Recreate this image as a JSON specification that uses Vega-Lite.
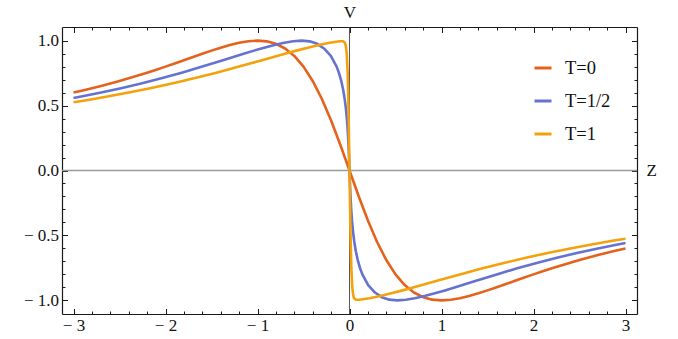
{
  "$schema": "https://vega.github.io/schema/vega-lite/v6.json",
  "width": 575,
  "height": 287,
  "autosize": {"type": "none"},
  "padding": {"left": 62, "top": 27, "right": 41, "bottom": 25},
  "background": "white",
  "config": {
    "view": {"stroke": null},
    "font": "Liberation Serif",
    "axis": {
      "domainColor": "#1a1a1a",
      "domainWidth": 1.2,
      "tickColor": "#1a1a1a",
      "tickWidth": 1,
      "grid": false,
      "labelFont": "Liberation Serif",
      "labelFontSize": 17,
      "labelColor": "#111111",
      "titleFont": "Liberation Serif",
      "titleFontSize": 17,
      "titleFontWeight": "normal",
      "titleColor": "#111111"
    },
    "legend": {
      "labelFont": "Liberation Serif",
      "labelFontSize": 18.5,
      "labelColor": "#111111"
    }
  },
  "datasets": {
    "curves": [
      {"T": "T=0", "Z": -3, "V": 0.6},
      {"T": "T=0", "Z": -2.9, "V": 0.61636},
      {"T": "T=0", "Z": -2.8, "V": 0.63348},
      {"T": "T=0", "Z": -2.7, "V": 0.65139},
      {"T": "T=0", "Z": -2.6, "V": 0.6701},
      {"T": "T=0", "Z": -2.5, "V": 0.68966},
      {"T": "T=0", "Z": -2.4, "V": 0.71006},
      {"T": "T=0", "Z": -2.3, "V": 0.73132},
      {"T": "T=0", "Z": -2.2, "V": 0.75342},
      {"T": "T=0", "Z": -2.1, "V": 0.77634},
      {"T": "T=0", "Z": -2.0, "V": 0.8},
      {"T": "T=0", "Z": -1.9, "V": 0.8243},
      {"T": "T=0", "Z": -1.8, "V": 0.84906},
      {"T": "T=0", "Z": -1.7, "V": 0.87404},
      {"T": "T=0", "Z": -1.6, "V": 0.89888},
      {"T": "T=0", "Z": -1.5, "V": 0.92308},
      {"T": "T=0", "Z": -1.4, "V": 0.94595},
      {"T": "T=0", "Z": -1.3, "V": 0.96654},
      {"T": "T=0", "Z": -1.2, "V": 0.98361},
      {"T": "T=0", "Z": -1.1, "V": 0.99548},
      {"T": "T=0", "Z": -1.0, "V": 1},
      {"T": "T=0", "Z": -0.9, "V": 0.99448},
      {"T": "T=0", "Z": -0.8, "V": 0.97561},
      {"T": "T=0", "Z": -0.7, "V": 0.9396},
      {"T": "T=0", "Z": -0.6, "V": 0.88235},
      {"T": "T=0", "Z": -0.5, "V": 0.8},
      {"T": "T=0", "Z": -0.4, "V": 0.68966},
      {"T": "T=0", "Z": -0.3, "V": 0.55046},
      {"T": "T=0", "Z": -0.2, "V": 0.38462},
      {"T": "T=0", "Z": -0.1, "V": 0.19802},
      {"T": "T=0", "Z": 0, "V": 0},
      {"T": "T=0", "Z": 0.1, "V": -0.19802},
      {"T": "T=0", "Z": 0.2, "V": -0.38462},
      {"T": "T=0", "Z": 0.3, "V": -0.55046},
      {"T": "T=0", "Z": 0.4, "V": -0.68966},
      {"T": "T=0", "Z": 0.5, "V": -0.8},
      {"T": "T=0", "Z": 0.6, "V": -0.88235},
      {"T": "T=0", "Z": 0.7, "V": -0.9396},
      {"T": "T=0", "Z": 0.8, "V": -0.97561},
      {"T": "T=0", "Z": 0.9, "V": -0.99448},
      {"T": "T=0", "Z": 1.0, "V": -1},
      {"T": "T=0", "Z": 1.1, "V": -0.99548},
      {"T": "T=0", "Z": 1.2, "V": -0.98361},
      {"T": "T=0", "Z": 1.3, "V": -0.96654},
      {"T": "T=0", "Z": 1.4, "V": -0.94595},
      {"T": "T=0", "Z": 1.5, "V": -0.92308},
      {"T": "T=0", "Z": 1.6, "V": -0.89888},
      {"T": "T=0", "Z": 1.7, "V": -0.87404},
      {"T": "T=0", "Z": 1.8, "V": -0.84906},
      {"T": "T=0", "Z": 1.9, "V": -0.8243},
      {"T": "T=0", "Z": 2.0, "V": -0.8},
      {"T": "T=0", "Z": 2.1, "V": -0.77634},
      {"T": "T=0", "Z": 2.2, "V": -0.75342},
      {"T": "T=0", "Z": 2.3, "V": -0.73132},
      {"T": "T=0", "Z": 2.4, "V": -0.71006},
      {"T": "T=0", "Z": 2.5, "V": -0.68966},
      {"T": "T=0", "Z": 2.6, "V": -0.6701},
      {"T": "T=0", "Z": 2.7, "V": -0.65139},
      {"T": "T=0", "Z": 2.8, "V": -0.63348},
      {"T": "T=0", "Z": 2.9, "V": -0.61636},
      {"T": "T=0", "Z": 3, "V": -0.6},

      {"T": "T=1/2", "Z": -3, "V": 0.5581},
      {"T": "T=1/2", "Z": -2.9153, "V": 0.5694},
      {"T": "T=1/2", "Z": -2.7, "V": 0.6},
      {"T": "T=1/2", "Z": -2.4833, "V": 0.6335},
      {"T": "T=1/2", "Z": -2.265, "V": 0.6701},
      {"T": "T=1/2", "Z": -2.045, "V": 0.7101},
      {"T": "T=1/2", "Z": -1.8233, "V": 0.7534},
      {"T": "T=1/2", "Z": -1.6, "V": 0.8},
      {"T": "T=1/2", "Z": -1.3755, "V": 0.8491},
      {"T": "T=1/2", "Z": -1.1506, "V": 0.8989},
      {"T": "T=1/2", "Z": -1.0385, "V": 0.9231},
      {"T": "T=1/2", "Z": -0.927, "V": 0.9459},
      {"T": "T=1/2", "Z": -0.8167, "V": 0.9665},
      {"T": "T=1/2", "Z": -0.7082, "V": 0.9836},
      {"T": "T=1/2", "Z": -0.6122, "V": 0.9955},
      {"T": "T=1/2", "Z": -0.52, "V": 1},
      {"T": "T=1/2", "Z": -0.4326, "V": 0.9945},
      {"T": "T=1/2", "Z": -0.3512, "V": 0.9756},
      {"T": "T=1/2", "Z": -0.2772, "V": 0.9396},
      {"T": "T=1/2", "Z": -0.2029, "V": 0.8824},
      {"T": "T=1/2", "Z": -0.14, "V": 0.8},
      {"T": "T=1/2", "Z": -0.1132, "V": 0.7484},
      {"T": "T=1/2", "Z": -0.0896, "V": 0.6897},
      {"T": "T=1/2", "Z": -0.0694, "V": 0.6236},
      {"T": "T=1/2", "Z": -0.0523, "V": 0.5505},
      {"T": "T=1/2", "Z": -0.0382, "V": 0.4706},
      {"T": "T=1/2", "Z": -0.0269, "V": 0.3846},
      {"T": "T=1/2", "Z": -0.018, "V": 0.2934},
      {"T": "T=1/2", "Z": -0.0109, "V": 0.198},
      {"T": "T=1/2", "Z": -0.0051, "V": 0.0998},
      {"T": "T=1/2", "Z": 0, "V": 0},
      {"T": "T=1/2", "Z": 0.0051, "V": -0.0998},
      {"T": "T=1/2", "Z": 0.0109, "V": -0.198},
      {"T": "T=1/2", "Z": 0.018, "V": -0.2934},
      {"T": "T=1/2", "Z": 0.0269, "V": -0.3846},
      {"T": "T=1/2", "Z": 0.0382, "V": -0.4706},
      {"T": "T=1/2", "Z": 0.0523, "V": -0.5505},
      {"T": "T=1/2", "Z": 0.0694, "V": -0.6236},
      {"T": "T=1/2", "Z": 0.0896, "V": -0.6897},
      {"T": "T=1/2", "Z": 0.1132, "V": -0.7484},
      {"T": "T=1/2", "Z": 0.14, "V": -0.8},
      {"T": "T=1/2", "Z": 0.2029, "V": -0.8824},
      {"T": "T=1/2", "Z": 0.2772, "V": -0.9396},
      {"T": "T=1/2", "Z": 0.3512, "V": -0.9756},
      {"T": "T=1/2", "Z": 0.4326, "V": -0.9945},
      {"T": "T=1/2", "Z": 0.52, "V": -1},
      {"T": "T=1/2", "Z": 0.6122, "V": -0.9955},
      {"T": "T=1/2", "Z": 0.7082, "V": -0.9836},
      {"T": "T=1/2", "Z": 0.8167, "V": -0.9665},
      {"T": "T=1/2", "Z": 0.927, "V": -0.9459},
      {"T": "T=1/2", "Z": 1.0385, "V": -0.9231},
      {"T": "T=1/2", "Z": 1.1506, "V": -0.8989},
      {"T": "T=1/2", "Z": 1.3755, "V": -0.8491},
      {"T": "T=1/2", "Z": 1.6, "V": -0.8},
      {"T": "T=1/2", "Z": 1.8233, "V": -0.7534},
      {"T": "T=1/2", "Z": 2.045, "V": -0.7101},
      {"T": "T=1/2", "Z": 2.265, "V": -0.6701},
      {"T": "T=1/2", "Z": 2.4833, "V": -0.6335},
      {"T": "T=1/2", "Z": 2.7, "V": -0.6},
      {"T": "T=1/2", "Z": 2.9153, "V": -0.5694},
      {"T": "T=1/2", "Z": 3, "V": -0.5581},

      {"T": "T=1", "Z": -3, "V": 0.5253},
      {"T": "T=1", "Z": -2.8586, "V": 0.5414},
      {"T": "T=1", "Z": -2.6306, "V": 0.5694},
      {"T": "T=1", "Z": -2.4, "V": 0.6},
      {"T": "T=1", "Z": -2.1665, "V": 0.6335},
      {"T": "T=1", "Z": -1.9299, "V": 0.6701},
      {"T": "T=1", "Z": -1.6899, "V": 0.7101},
      {"T": "T=1", "Z": -1.4466, "V": 0.7534},
      {"T": "T=1", "Z": -1.2, "V": 0.8},
      {"T": "T=1", "Z": -0.9509, "V": 0.8491},
      {"T": "T=1", "Z": -0.826, "V": 0.874},
      {"T": "T=1", "Z": -0.7011, "V": 0.8989},
      {"T": "T=1", "Z": -0.5769, "V": 0.9231},
      {"T": "T=1", "Z": -0.4541, "V": 0.9459},
      {"T": "T=1", "Z": -0.3335, "V": 0.9665},
      {"T": "T=1", "Z": -0.2164, "V": 0.9836},
      {"T": "T=1", "Z": -0.1045, "V": 0.9955},
      {"T": "T=1", "Z": -0.07, "V": 0.9955},
      {"T": "T=1", "Z": -0.05, "V": 0.984},
      {"T": "T=1", "Z": -0.04, "V": 0.959},
      {"T": "T=1", "Z": -0.03, "V": 0.898},
      {"T": "T=1", "Z": -0.02, "V": 0.752},
      {"T": "T=1", "Z": -0.01, "V": 0.452},
      {"T": "T=1", "Z": 0, "V": 0},
      {"T": "T=1", "Z": 0.01, "V": -0.452},
      {"T": "T=1", "Z": 0.02, "V": -0.752},
      {"T": "T=1", "Z": 0.03, "V": -0.898},
      {"T": "T=1", "Z": 0.04, "V": -0.959},
      {"T": "T=1", "Z": 0.05, "V": -0.984},
      {"T": "T=1", "Z": 0.07, "V": -0.9955},
      {"T": "T=1", "Z": 0.1045, "V": -0.9955},
      {"T": "T=1", "Z": 0.2164, "V": -0.9836},
      {"T": "T=1", "Z": 0.3335, "V": -0.9665},
      {"T": "T=1", "Z": 0.4541, "V": -0.9459},
      {"T": "T=1", "Z": 0.5769, "V": -0.9231},
      {"T": "T=1", "Z": 0.7011, "V": -0.8989},
      {"T": "T=1", "Z": 0.826, "V": -0.874},
      {"T": "T=1", "Z": 0.9509, "V": -0.8491},
      {"T": "T=1", "Z": 1.2, "V": -0.8},
      {"T": "T=1", "Z": 1.4466, "V": -0.7534},
      {"T": "T=1", "Z": 1.6899, "V": -0.7101},
      {"T": "T=1", "Z": 1.9299, "V": -0.6701},
      {"T": "T=1", "Z": 2.1665, "V": -0.6335},
      {"T": "T=1", "Z": 2.4, "V": -0.6},
      {"T": "T=1", "Z": 2.6306, "V": -0.5694},
      {"T": "T=1", "Z": 2.8586, "V": -0.5414},
      {"T": "T=1", "Z": 3, "V": -0.5253}
    ]
  },
  "layer": [
    {
      "data": {"values": [{}]},
      "mark": {"type": "rule", "color": "#9a9a9a", "strokeWidth": 1.3},
      "encoding": {
        "x": {
          "datum": -3.125,
          "type": "quantitative",
          "scale": {"domain": [-3.125, 3.125], "nice": false, "zero": false},
          "axis": {
            "orient": "bottom",
            "title": null,
            "values": [-3, -2.8, -2.6, -2.4, -2.2, -2, -1.8, -1.6, -1.4, -1.2, -1, -0.8, -0.6, -0.4, -0.2, 0, 0.2, 0.4, 0.6, 0.8, 1, 1.2, 1.4, 1.6, 1.8, 2, 2.2, 2.4, 2.6, 2.8, 3],
            "tickSize": {"condition": {"test": "abs(datum.value - round(datum.value)) < 1e-6", "value": -5.5}, "value": -3},
            "labelPadding": 9,
            "labelExpr": "abs(datum.value - round(datum.value)) < 1e-6 ? ((datum.value < 0 ? '− ' : '') + format(abs(datum.value), 'd')) : ''",
            "labelFlush": false,
            "labelOverlap": false
          }
        },
        "x2": {"datum": 3.125},
        "y": {
          "datum": 0,
          "type": "quantitative",
          "scale": {"domain": [-1.105, 1.105], "nice": false, "zero": false},
          "axis": {
            "orient": "left",
            "title": null,
            "values": [-1, -0.9, -0.8, -0.7, -0.6, -0.5, -0.4, -0.3, -0.2, -0.1, 0, 0.1, 0.2, 0.3, 0.4, 0.5, 0.6, 0.7, 0.8, 0.9, 1],
            "tickSize": {"condition": {"test": "abs(datum.value * 2 - round(datum.value * 2)) < 1e-6", "value": -5.5}, "value": -3},
            "labelPadding": 9,
            "labelExpr": "abs(datum.value * 2 - round(datum.value * 2)) < 1e-6 ? ((datum.value < -1e-6 ? '− ' : '') + format(abs(datum.value), '.1f')) : ''",
            "labelFlush": false,
            "labelOverlap": false
          }
        }
      }
    },
    {
      "data": {"values": [{}]},
      "mark": {"type": "rule", "color": "#444444", "strokeWidth": 0.9},
      "encoding": {
        "x": {
          "datum": 0,
          "type": "quantitative",
          "axis": {
            "orient": "top",
            "title": "V",
            "titleX": 287.5,
            "titleY": -10,
            "titleAlign": "center",
            "titleBaseline": "alphabetic",
            "labels": false,
            "values": [-3, -2.8, -2.6, -2.4, -2.2, -2, -1.8, -1.6, -1.4, -1.2, -1, -0.8, -0.6, -0.4, -0.2, 0, 0.2, 0.4, 0.6, 0.8, 1, 1.2, 1.4, 1.6, 1.8, 2, 2.2, 2.4, 2.6, 2.8, 3],
            "tickSize": {"condition": {"test": "abs(datum.value - round(datum.value)) < 1e-6", "value": -5.5}, "value": -3}
          }
        },
        "y": {
          "datum": -1.105,
          "type": "quantitative",
          "axis": {
            "orient": "right",
            "title": "Z",
            "titleAngle": 0,
            "titleX": 9,
            "titleY": 143.5,
            "titleAlign": "left",
            "titleBaseline": "middle",
            "labels": false,
            "values": [-1, -0.9, -0.8, -0.7, -0.6, -0.5, -0.4, -0.3, -0.2, -0.1, 0, 0.1, 0.2, 0.3, 0.4, 0.5, 0.6, 0.7, 0.8, 0.9, 1],
            "tickSize": {"condition": {"test": "abs(datum.value * 2 - round(datum.value * 2)) < 1e-6", "value": -5.5}, "value": -3}
          }
        },
        "y2": {"datum": 1.105}
      }
    },
    {
      "data": {"name": "curves"},
      "mark": {"type": "line", "strokeWidth": 2.6, "strokeJoin": "round", "strokeCap": "butt"},
      "encoding": {
        "x": {"field": "Z", "type": "quantitative", "axis": null},
        "y": {"field": "V", "type": "quantitative", "axis": null},
        "color": {
          "field": "T",
          "type": "nominal",
          "scale": {"domain": ["T=0", "T=1/2", "T=1"], "range": ["#E5621C", "#6572D0", "#F4A10C"]},
          "legend": {
            "title": null,
            "orient": "none",
            "legendX": 471,
            "legendY": 31,
            "symbolType": "stroke",
            "symbolSize": 289,
            "symbolStrokeWidth": 3,
            "labelOffset": 12,
            "rowPadding": 13
          }
        }
      }
    }
  ],
  "resolve": {"axis": {"x": "independent", "y": "independent"}}
}
